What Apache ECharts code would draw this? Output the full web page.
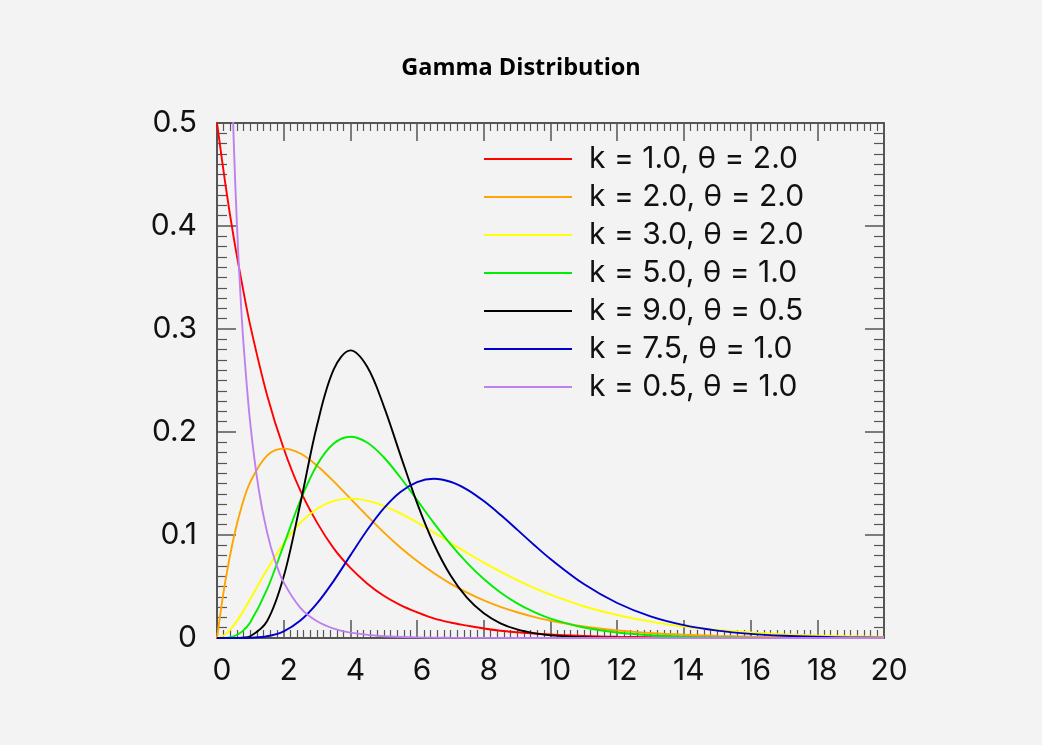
<!DOCTYPE html>
<html lang="en">
<head>
    <meta charset="UTF-8">
    <title>Gamma Distribution</title>
    <script src="https://cdn.jsdelivr.net/npm/echarts@6/dist/echarts.min.js"></script>
    <style>
        html, body {
            margin: 0;
            padding: 0;
            background-color: #f3f3f3;
        }
        #chartContainer {
            width: 1042px;
            height: 745px;
        }
    </style>
</head>
<body>
    <div id="chartContainer"></div>

    <script>
        // x positions shared by most curves
        const xs = [0, 0.25, 0.5, 0.75, 1, 1.5, 2, 2.5, 3, 3.5, 4, 4.5, 5, 5.5, 6, 6.5, 7, 7.5, 8, 8.5, 9, 9.5, 10, 11, 12, 13, 14, 15, 16, 17, 18, 19, 20];
        // the k = 0.5 curve needs denser points near 0
        const xsPurple = [0.4, 0.5, 0.6, 0.7, 0.8, 1.0, 1.25, 1.5, 1.75, 2, 2.5, 3, 3.5, 4, 5, 6, 7, 8, 10, 12, 15, 20];

        const labels = ['k = 1.0, θ = 2.0', 'k = 2.0, θ = 2.0', 'k = 3.0, θ = 2.0', 'k = 5.0, θ = 1.0',
                        'k = 9.0, θ = 0.5', 'k = 7.5, θ = 1.0', 'k = 0.5, θ = 1.0'];
        const colors = ['#ff0000', '#ffa500', '#ffff00', '#00ee00', '#000000', '#0000cd', '#bf80ef'];

        const red = [0.5, 0.441, 0.389, 0.344, 0.303, 0.236, 0.184, 0.143, 0.112, 0.087, 0.068, 0.053, 0.041, 0.032, 0.025, 0.019, 0.015, 0.012, 0.0092, 0.0071, 0.0056, 0.0043, 0.0034, 0.002, 0.0012, 0.0008, 0.0005, 0.0003, 0.0002, 0.0001, 0.0001, 0, 0];
        const orange = [0, 0.0552, 0.0974, 0.1289, 0.1516, 0.1771, 0.1839, 0.1791, 0.1673, 0.1521, 0.1353, 0.1186, 0.1026, 0.0879, 0.0747, 0.0631, 0.0528, 0.0441, 0.0366, 0.0303, 0.025, 0.0205, 0.0168, 0.0112, 0.0074, 0.0049, 0.0032, 0.0021, 0.0013, 0.0009, 0.0006, 0.0004, 0.0002];
        const yellow = [0, 0.0034, 0.0122, 0.0242, 0.0379, 0.0664, 0.092, 0.1119, 0.1255, 0.1331, 0.1353, 0.1334, 0.1283, 0.1209, 0.1121, 0.1025, 0.0924, 0.0827, 0.0732, 0.0644, 0.0562, 0.0487, 0.0421, 0.0308, 0.0223, 0.0159, 0.0112, 0.0078, 0.0054, 0.0037, 0.0025, 0.0017, 0.0011];
        const green = [0, 0.0001, 0.0016, 0.0062, 0.0153, 0.0471, 0.0902, 0.1336, 0.168, 0.1888, 0.1954, 0.1898, 0.1755, 0.1558, 0.1339, 0.1118, 0.0912, 0.0729, 0.0572, 0.0442, 0.0336, 0.0254, 0.0189, 0.0102, 0.0053, 0.0027, 0.0013, 0.0006, 0.0003, 0.0001, 0.0001, 0, 0];
        const black = [0, 0, 0, 0.0003, 0.0017, 0.0162, 0.0596, 0.1306, 0.2065, 0.2608, 0.2792, 0.2635, 0.2252, 0.1776, 0.131, 0.0915, 0.0609, 0.0389, 0.024, 0.0143, 0.0083, 0.0047, 0.0026, 0.0008, 0.0002, 0, 0, 0, 0, 0, 0, 0, 0];
        const blue = [0, 0, 0, 0, 0.0002, 0.0017, 0.0065, 0.0169, 0.0336, 0.0555, 0.0802, 0.1046, 0.1258, 0.1418, 0.1514, 0.1546, 0.1517, 0.1441, 0.1329, 0.1196, 0.1052, 0.0906, 0.0767, 0.0524, 0.034, 0.021, 0.0125, 0.0072, 0.004, 0.0022, 0.0012, 0.0006, 0.0003];
        const purple = [0.598, 0.484, 0.3997, 0.3349, 0.2834, 0.2076, 0.1446, 0.1028, 0.0741, 0.054, 0.0293, 0.0162, 0.0091, 0.0052, 0.0017, 0.0006, 0.0002, 0.0001, 0, 0, 0, 0];

        const seriesValues = [red, orange, yellow, green, black, blue, purple];

        const chart = echarts.init(document.getElementById('chartContainer'));

        const tickFont = { fontFamily: 'Inter', fontSize: 30, color: '#111' };

        function xAxisDef(position, showLabel) {
            return {
                type: 'value',
                position: position,
                min: 0,
                max: 20,
                interval: 2,
                axisLine: { show: true, onZero: false, lineStyle: { color: '#555', width: 2 } },
                axisTick: { show: true, inside: true, length: 18, lineStyle: { color: '#555', width: 1.5 } },
                minorTick: { show: true, splitNumber: 10, length: 8, lineStyle: { color: '#555', width: 1.2 } },
                splitLine: { show: false },
                axisLabel: Object.assign({ show: showLabel, margin: 18, padding: [0, 0, 0, 10] }, tickFont)
            };
        }

        function yAxisDef(position, showLabel) {
            return {
                type: 'value',
                position: position,
                min: 0,
                max: 0.5,
                interval: 0.1,
                axisLine: { show: true, onZero: false, lineStyle: { color: '#555', width: 2 } },
                axisTick: { show: true, inside: true, length: 19, lineStyle: { color: '#555', width: 1.5 } },
                minorTick: { show: true, splitNumber: 10, length: 10, lineStyle: { color: '#555', width: 1.2 } },
                splitLine: { show: false },
                axisLabel: Object.assign({ show: showLabel, margin: 20 }, tickFont)
            };
        }

        const option = {
            backgroundColor: '#f3f3f3',
            animation: false,
            title: {
                text: 'Gamma Distribution',
                left: 'center',
                top: 51,
                textStyle: { fontFamily: 'Open Sans', fontWeight: 'bold', fontSize: 23.5, color: '#000' }
            },
            legend: {
                orient: 'vertical',
                left: 479,
                top: 139,
                icon: 'rect',
                itemWidth: 88,
                itemHeight: 2,
                itemGap: 8,
                data: labels,
                textStyle: { fontFamily: 'Inter', fontSize: 30, lineHeight: 28, color: '#111', padding: [0, 0, 0, 12] }
            },
            grid: { left: 217, right: 158, top: 123, bottom: 107 },
            xAxis: [xAxisDef('bottom', true), xAxisDef('top', false)],
            yAxis: [yAxisDef('left', true), yAxisDef('right', false)],
            series: seriesValues.map((vals, i) => {
                const xVals = vals === purple ? xsPurple : xs;
                return {
                    name: labels[i],
                    type: 'line',
                    data: vals.map((v, j) => [xVals[j], v]),
                    xAxisIndex: 0,
                    yAxisIndex: 0,
                    symbol: 'none',
                    smooth: 0.35,
                    clip: true,
                    color: colors[i],
                    lineStyle: { color: colors[i], width: 1.9 }
                };
            })
        };

        chart.setOption(option);
    </script>
</body>
</html>
